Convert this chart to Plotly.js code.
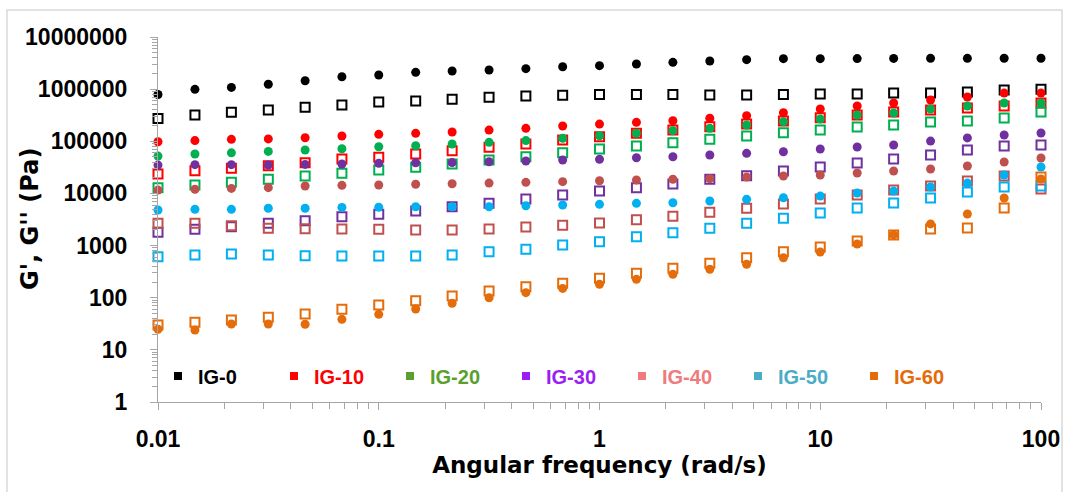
<!DOCTYPE html>
<html>
<head>
<meta charset="utf-8">
<script src="https://cdn.plot.ly/plotly-3.0.1.min.js"></script>
<style>html,body{margin:0;padding:0;background:#fff;}#chart{width:1065px;height:492px;}</style>
</head>
<body>
<div id="chart"></div>
<script>
// Angular frequency (rad/s)
const omega = [0.01, 0.0147, 0.0215, 0.0316, 0.0464, 0.0681, 0.1, 0.147, 0.215, 0.316, 0.464, 0.681, 1, 1.47, 2.15, 3.16, 4.64, 6.81, 10, 14.7, 21.5, 31.6, 46.4, 68.1, 100];

// Storage modulus G' (Pa) — filled circles
const ig0_Gp  = [7.9e5, 9.9e5, 1.08e6, 1.24e6, 1.45e6, 1.73e6, 1.87e6, 2.1e6, 2.23e6, 2.33e6, 2.47e6, 2.69e6, 2.82e6, 3.03e6, 3.27e6, 3.47e6, 3.68e6, 3.84e6, 3.84e6, 3.86e6, 3.88e6, 3.9e6, 3.9e6, 3.92e6, 3.92e6];
const ig10_Gp = [9.8e4, 1.03e5, 1.09e5, 1.11e5, 1.17e5, 1.26e5, 1.36e5, 1.42e5, 1.51e5, 1.64e5, 1.77e5, 1.96e5, 2.14e5, 2.31e5, 2.48e5, 2.76e5, 3.1e5, 3.53e5, 4.16e5, 4.75e5, 5.42e5, 6.2e5, 7.06e5, 8.4e5, 8.4e5];
const ig20_Gp = [5.2e4, 5.7e4, 6.0e4, 6.4e4, 6.8e4, 7.2e4, 7.87e4, 8.2e4, 8.87e4, 9.55e4, 1.03e5, 1.14e5, 1.28e5, 1.42e5, 1.6e5, 1.77e5, 2.05e5, 2.38e5, 2.67e5, 3.19e5, 3.48e5, 4.16e5, 4.75e5, 5.42e5, 5.42e5];
const ig30_Gp = [3.5e4, 3.56e4, 3.56e4, 3.5e4, 3.6e4, 3.66e4, 3.78e4, 3.88e4, 3.9e4, 4.06e4, 4.19e4, 4.37e4, 4.5e4, 4.84e4, 5.06e4, 5.46e4, 5.87e4, 6.3e4, 7.1e4, 7.76e4, 8.5e4, 1.01e5, 1.16e5, 1.32e5, 1.44e5];
const ig40_Gp = [1.16e4, 1.2e4, 1.25e4, 1.29e4, 1.39e4, 1.43e4, 1.45e4, 1.5e4, 1.53e4, 1.58e4, 1.63e4, 1.68e4, 1.75e4, 1.81e4, 1.87e4, 1.92e4, 2.06e4, 2.16e4, 2.26e4, 2.46e4, 2.69e4, 2.94e4, 3.36e4, 4.0e4, 4.78e4];
const ig50_Gp = [4.8e3, 4.96e3, 4.96e3, 5.2e3, 5.2e3, 5.4e3, 5.42e3, 5.56e3, 5.56e3, 5.56e3, 5.81e3, 6.0e3, 6.18e3, 6.46e3, 6.64e3, 7.16e3, 7.7e3, 8.28e3, 8.9e3, 1.02e4, 1.11e4, 1.33e4, 1.58e4, 2.26e4, 3.21e4];
const ig60_Gp = [24.8, 24, 31.3, 31.3, 31, 38.5, 48, 60.7, 78, 100, 125, 151, 181, 225, 281, 351, 438, 585, 754, 1070, 1600, 2600, 4030, 8170, 18900];

// Loss modulus G'' (Pa) — open squares
const ig0_Gpp  = [2.75e5, 3.2e5, 3.6e5, 3.98e5, 4.5e5, 4.97e5, 5.67e5, 5.93e5, 6.38e5, 6.97e5, 7.38e5, 7.6e5, 7.9e5, 7.9e5, 7.9e5, 7.7e5, 7.7e5, 7.9e5, 8.1e5, 8.1e5, 8.4e5, 8.4e5, 8.8e5, 9.6e5, 1.0e6];
const ig10_Gpp = [2.36e4, 2.73e4, 3.03e4, 3.4e4, 3.88e4, 4.57e4, 4.93e4, 5.7e4, 6.6e4, 7.67e4, 8.87e4, 1.06e5, 1.22e5, 1.42e5, 1.64e5, 1.9e5, 2.14e5, 2.45e5, 2.83e5, 3.19e5, 3.65e5, 3.98e5, 4.35e5, 4.75e5, 5.42e5];
const ig20_Gpp = [1.29e4, 1.45e4, 1.63e4, 1.87e4, 2.16e4, 2.43e4, 2.81e4, 3.17e4, 3.66e4, 4.37e4, 5.06e4, 6.04e4, 7.1e4, 8.1e4, 9.4e4, 1.09e5, 1.26e5, 1.46e5, 1.64e5, 1.88e5, 2.05e5, 2.34e5, 2.45e5, 2.8e5, 3.65e5];
const ig30_Gpp = [1.8e3, 2.05e3, 2.3e3, 2.67e3, 3.0e3, 3.58e3, 3.98e3, 4.6e3, 5.56e3, 6.46e3, 7.8e3, 9.3e3, 1.11e4, 1.29e4, 1.52e4, 1.87e4, 2.19e4, 2.69e4, 3.21e4, 3.83e4, 4.57e4, 5.46e4, 6.8e4, 8.1e4, 8.5e4];
const ig40_Gpp = [2.67e3, 2.67e3, 2.4e3, 2.14e3, 2.1e3, 2.08e3, 2.05e3, 1.99e3, 1.99e3, 2.08e3, 2.27e3, 2.45e3, 2.71e3, 3.14e3, 3.64e3, 4.35e3, 5.19e3, 6.27e3, 7.8e3, 9.3e3, 1.16e4, 1.39e4, 1.73e4, 2.16e4, 1.22e4];
const ig50_Gpp = [612, 659, 689, 659, 640, 631, 631, 631, 659, 762, 847, 1030, 1190, 1480, 1770, 2140, 2670, 3340, 4200, 5250, 6550, 8170, 10600, 13300, 13900];
const ig60_Gpp = [30, 33.7, 37.3, 42, 48.7, 60, 72.4, 87.7, 108, 135, 163, 189, 236, 294, 366, 457, 585, 762, 938, 1220, 1600, 2080, 2170, 5250, 20600];

const sampleNames = ["IG-0", "IG-10", "IG-20", "IG-30", "IG-40", "IG-50", "IG-60"];
const markerColors = ["#000000", "#FF0000", "#00B050", "#7030A0", "#C0504D", "#00B0F0", "#E46C0A"];
const legendColors = ["#000000", "#FF0000", "#5B9F2E", "#9B1FF5", "#EE7B7E", "#4BACC6", "#E36C09"];

const yTickVals = [1, 10, 100, 1000, 10000, 100000, 1000000, 10000000];
const yTickText = ["1", "10", "100", "1000", "10000", "100000", "1000000", "10000000"];
const xTickVals = [0.01, 0.1, 1, 10, 100];
const xTickText = ["0.01", "0.1", "1", "10", "100"];
const xTitle = "Angular frequency (rad/s)";
const yTitle = "G', G'' (Pa)";

// minor tick positions (2..9 within each decade)
function minorTicks(decades) {
  const out = [];
  decades.forEach(d => { for (let k = 2; k <= 9; k++) out.push(k * d); });
  return out;
}
const xMinor = minorTicks([0.01, 0.1, 1, 10]);
const yMinor = minorTicks([1, 10, 100, 1000, 10000, 100000, 1000000]);

const GpSeries = [ig0_Gp, ig10_Gp, ig20_Gp, ig30_Gp, ig40_Gp, ig50_Gp, ig60_Gp];
const GppSeries = [ig0_Gpp, ig10_Gpp, ig20_Gpp, ig30_Gpp, ig40_Gpp, ig50_Gpp, ig60_Gpp];

const traces = [];
for (let i = 0; i < sampleNames.length; i++) {
  traces.push({
    x: omega, y: GpSeries[i], type: 'scatter', mode: 'markers',
    name: sampleNames[i] + " G'", showlegend: false, cliponaxis: false,
    marker: {symbol: 'circle', size: 9, color: markerColors[i]}
  });
  traces.push({
    x: omega, y: GppSeries[i], type: 'scatter', mode: 'markers',
    name: sampleNames[i] + " G''", showlegend: false, cliponaxis: false,
    marker: {symbol: 'square-open', size: 9, color: markerColors[i], line: {width: 2, color: markerColors[i]}}
  });
}
// legend entries
for (let i = 0; i < sampleNames.length; i++) {
  traces.push({
    x: [null], y: [null], type: 'scatter', mode: 'markers',
    name: '<span style="color:' + legendColors[i] + '">' + sampleNames[i] + '</span>',
    showlegend: true,
    marker: {symbol: 'square', size: 8, color: legendColors[i]}
  });
}

const axisGrey = '#A6A6A6';
const L = 158, R = 24, T = 37, B = 90, W = 1065, H = 492;
const pw = W - L - R, ph = H - T - B;
const px = v => (v - L) / pw;
const py = v => (H - B - v) / ph;

const layout = {
  width: W, height: H,
  margin: {l: L, r: R, t: T, b: B, pad: 0},
  paper_bgcolor: '#FFFFFF', plot_bgcolor: '#FFFFFF',
  showlegend: true,
  legend: {
    orientation: 'h', x: 0, xanchor: 'left', y: py(376), yanchor: 'middle',
    bgcolor: 'rgba(0,0,0,0)', borderwidth: 0,
    entrywidth: 71, entrywidthmode: 'pixels', itemwidth: 30,
    font: {family: 'Liberation Sans, Arial, sans-serif', size: 20, color: '#000', weight: 'bold'},
    traceorder: 'normal'
  },
  xaxis: {
    type: 'log', range: [-2, 2],
    tickvals: xTickVals, ticktext: xTickText,
    showgrid: false, zeroline: false,
    showline: true, linecolor: axisGrey, linewidth: 1,
    ticks: 'outside', ticklen: 7, tickcolor: axisGrey, tickwidth: 1,
    minor: {tickvals: xMinor, ticks: 'outside', ticklen: 6, tickcolor: axisGrey, tickwidth: 1, showgrid: false},
    ticklabelstandoff: 9,
    tickfont: {family: 'Liberation Sans, Arial, sans-serif', size: 23, color: '#000', weight: 'bold'},
    title: {text: xTitle, standoff: 4,
            font: {family: 'DejaVu Sans, sans-serif', size: 23, color: '#000', weight: 'bold'}}
  },
  yaxis: {
    type: 'log', range: [0, 7],
    tickvals: yTickVals, ticktext: yTickText,
    showgrid: false, zeroline: false,
    showline: true, linecolor: axisGrey, linewidth: 1,
    ticks: 'outside', ticklen: 7, tickcolor: axisGrey, tickwidth: 1,
    minor: {tickvals: yMinor, ticks: 'outside', ticklen: 5, tickcolor: axisGrey, tickwidth: 1, showgrid: false},
    ticklabelstandoff: 18,
    tickfont: {family: 'Liberation Sans, Arial, sans-serif', size: 23, color: '#000', weight: 'bold'}
  },
  annotations: [{
    text: yTitle, xref: 'paper', yref: 'paper', x: px(30), y: py(219),
    xanchor: 'center', yanchor: 'middle', textangle: -90, showarrow: false,
    font: {family: 'DejaVu Sans, sans-serif', size: 24, color: '#000', weight: 'bold'}
  }],
  shapes: [{
    type: 'rect', xref: 'paper', yref: 'paper',
    x0: px(7), x1: px(1062), y0: py(500), y1: py(10),
    line: {color: '#D9D9D9', width: 1.5}, fillcolor: 'rgba(0,0,0,0)', layer: 'below'
  }]
};

Plotly.newPlot('chart', traces, layout, {displayModeBar: false, staticPlot: true});
</script>
</body>
</html>
